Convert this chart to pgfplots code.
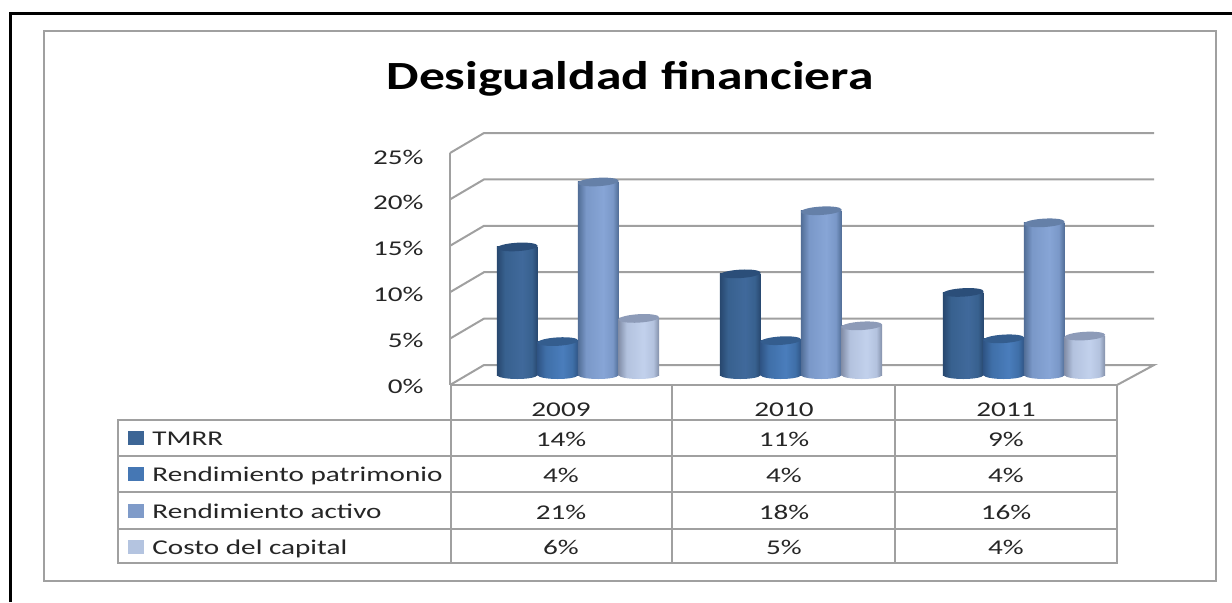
\documentclass[border=0pt]{standalone}
\usepackage{fontspec}
\setmainfont[FakeStretch=1.39]{Carlito}
\newfontfamily\titlefont[FakeStretch=1.29]{Carlito}
\usepackage{pgfplots}
\pgfplotsset{compat=1.18}

\definecolor{line}{HTML}{A0A0A0}
\definecolor{txt}{HTML}{262626}
\definecolor{keyA}{HTML}{3C6595}
\definecolor{keyB}{HTML}{4577B4}
\definecolor{keyC}{HTML}{7F9BC9}
\definecolor{keyD}{HTML}{B4C4E0}

% name, edge, mid, highlight, cap
\newcommand{\cylstyle}[5]{%
  \pgfdeclarehorizontalshading{cyl#1}{100bp}{
    color(0bp)=(#2); color(25bp)=(#2); color(35bp)=(#3);
    color(56bp)=(#4); color(68bp)=(#3); color(75bp)=(#2); color(100bp)=(#2)}
  \pgfdeclareplotmark{top#1}{%
    \pgfsetfillcolor{#5}%
    \pgfpathellipse{\pgfpointorigin}{\pgfqpoint{10.2pt}{0.6pt}}{\pgfqpoint{-0.1pt}{2.1pt}}%
    \pgfusepathqfill}
  \pgfdeclareplotmark{bot#1}{%
    \path[draw=none,shade,shading=cyl#1] (-10.1pt,0pt) arc [start angle=180, end angle=360,
      x radius=10.1pt, y radius=2pt] -- cycle;}
}
\definecolor{eA}{HTML}{28486F}\definecolor{mA}{HTML}{38618F}\definecolor{hA}{HTML}{40699B}\definecolor{cA}{HTML}{2B4E79}
\definecolor{eB}{HTML}{2F5586}\definecolor{mB}{HTML}{3F6FA8}\definecolor{hB}{HTML}{4A7DBC}\definecolor{cB}{HTML}{345D8E}
\definecolor{eC}{HTML}{526E97}\definecolor{mC}{HTML}{7A98C8}\definecolor{hC}{HTML}{87A5D6}\definecolor{cC}{HTML}{6580A8}
\definecolor{eD}{HTML}{838FA9}\definecolor{mD}{HTML}{B3C2DE}\definecolor{hD}{HTML}{C2D1EC}\definecolor{cD}{HTML}{8D9BB8}
\cylstyle{A}{eA}{mA}{hA}{cA}
\cylstyle{B}{eB}{mB}{hB}{cB}
\cylstyle{C}{eC}{mC}{hC}{cC}
\cylstyle{D}{eD}{mD}{hD}{cD}

% year position, value, style name, shift: one bar per plot so each gets its own shading
\newcommand{\cylinder}[4]{%
  \addplot[only marks, xshift=#4, mark=bot#3] coordinates {(#1,0)};
  \addplot[ybar, bar width=20.25pt, bar shift=#4, draw=none, shade, shading=cyl#3]
    coordinates {(#1,#2)};
  \addplot[only marks, xshift=#4, mark=top#3] coordinates {(#1,#2)};
}
\newcommand{\cell}[3]{\node[anchor=base, text=txt] at (#1,#2) {#3};}
\newcommand{\rowlabel}[3]{%
  \fill[#1] (128,#2-7) rectangle (144,#2+7);
  \node[anchor=base west, inner sep=0pt, text=txt] at (152,#2+7) {#3};}

\begin{document}
\begin{tikzpicture}[font=\fontsize{10.5}{12}\selectfont]
\useasboundingbox (0pt,0pt) rectangle (616pt,301pt);
% page axis: coordinates are pixels of the 1232x602 picture
\begin{axis}[
    at={(0pt,0pt)}, anchor=south west,
    scale only axis, width=616pt, height=301pt,
    xmin=0, xmax=1232, ymin=0, ymax=602,
    y dir=reverse, hide axis, clip=false]
  \draw[black, line width=1.5pt] (10,602) -- (10,13) -- (1232,13);
  \draw[line, line width=1.2pt] (44,31) rectangle (1216,581);
  \node[font=\titlefont\fontsize{20}{24}\selectfont\bfseries, anchor=base, text=black]
    at (630,89) {Desigualdad financiera};
  % walls and gridlines
  \draw[line, line width=1pt] (450,153) -- (450,385);
  \draw[line, line width=1pt] (450,153) -- (484,133) -- (1154,133);
  \draw[line, line width=1pt] (450,199.4) -- (484,179.4) -- (1154,179.4);
  \draw[line, line width=1pt] (450,245.8) -- (484,225.8) -- (1154,225.8);
  \draw[line, line width=1pt] (450,292.2) -- (484,272.2) -- (1154,272.2);
  \draw[line, line width=1pt] (450,338.6) -- (484,318.6) -- (1154,318.6);
  \draw[line, line width=1pt] (450,385) -- (484,365) -- (1154,365) -- (1117,385);
  % data table
  \draw[line, line width=1pt] (450,385) -- (1117,385) -- (1117,563) -- (118,563) -- (118,420) -- (1117,420);
  \draw[line, line width=1pt] (118,456) -- (1117,456);
  \draw[line, line width=1pt] (118,492) -- (1117,492);
  \draw[line, line width=1pt] (118,529) -- (1117,529);
  \draw[line, line width=1pt] (451,385) -- (451,563);
  \draw[line, line width=1pt] (672,385) -- (672,563);
  \draw[line, line width=1pt] (895,385) -- (895,563);
  \cell{561}{416}{2009} \cell{784}{416}{2010} \cell{1006}{416}{2011}
  \cell{561}{446}{14\%} \cell{784}{446}{11\%} \cell{1006}{446}{9\%}
  \cell{561}{482}{4\%}  \cell{784}{482}{4\%}  \cell{1006}{482}{4\%}
  \cell{561}{519}{21\%} \cell{784}{519}{18\%} \cell{1006}{519}{16\%}
  \cell{561}{554}{6\%}  \cell{784}{554}{5\%}  \cell{1006}{554}{4\%}
  \rowlabel{keyA}{438}{TMRR}
  \rowlabel{keyB}{474}{Rendimiento patrimonio}
  \rowlabel{keyC}{511}{Rendimiento activo}
  \rowlabel{keyD}{547}{Costo del capital}
\end{axis}
% value axis on the front edge of the wall
\begin{axis}[
    at={(225pt,108pt)}, anchor=south west,
    scale only axis, width=300pt, height=114.5pt,
    xmin=0, xmax=1, ymin=0, ymax=25,
    axis line style={draw=none}, major tick length=0pt,
    xtick=\empty, ytick={0,5,...,25},
    yticklabel={\pgfmathprintnumber[assume math mode=true]{\tick}\%},
    yticklabel style={anchor=east, inner sep=0pt, xshift=-13pt, text=txt}]
\end{axis}
% cylinders: values read off the picture, in percent
\begin{axis}[
    at={(233.25pt,113.5pt)}, anchor=south west,
    scale only axis, width=334.5pt, height=116pt,
    xmin=-0.5, xmax=2.5, ymin=0, ymax=25,
    hide axis, clip=false]
  \cylinder{0}{13.8}{A}{-30.4pt}
  \cylinder{0}{3.6}{B}{-10.1pt}
  \cylinder{0}{20.8}{C}{10.1pt}
  \cylinder{0}{6.1}{D}{30.4pt}
  \cylinder{1}{10.9}{A}{-30.4pt}
  \cylinder{1}{3.7}{B}{-10.1pt}
  \cylinder{1}{17.7}{C}{10.1pt}
  \cylinder{1}{5.3}{D}{30.4pt}
  \cylinder{2}{8.9}{A}{-30.4pt}
  \cylinder{2}{3.9}{B}{-10.1pt}
  \cylinder{2}{16.4}{C}{10.1pt}
  \cylinder{2}{4.2}{D}{30.4pt}
\end{axis}
\end{tikzpicture}
\end{document}
